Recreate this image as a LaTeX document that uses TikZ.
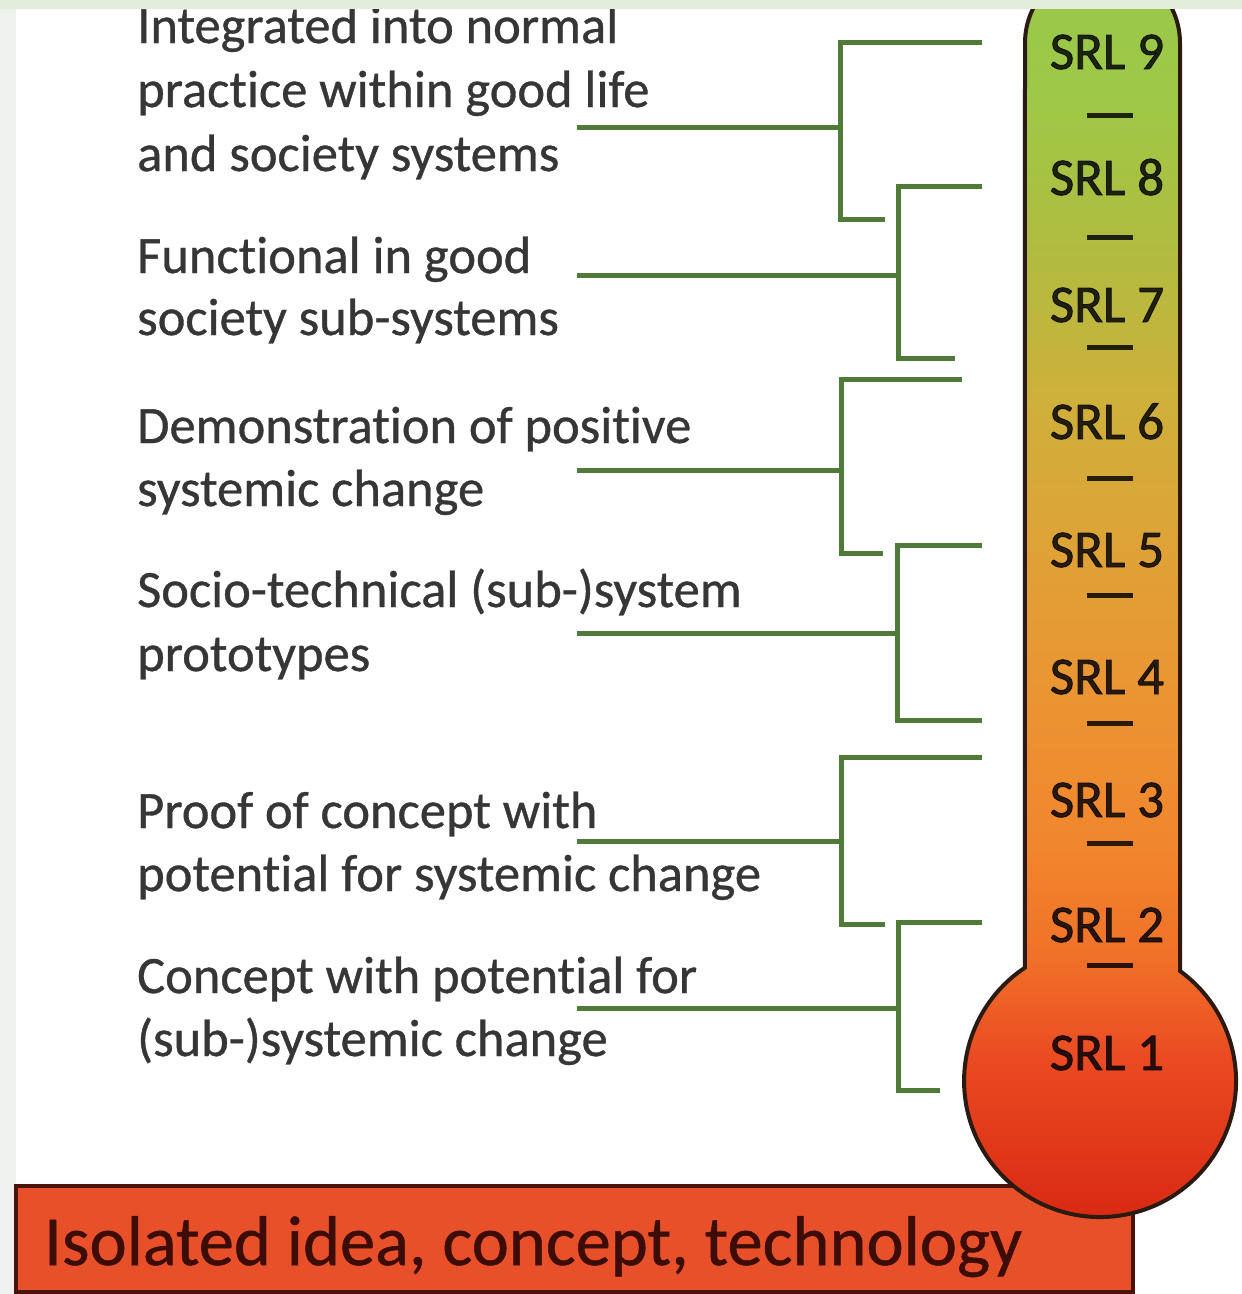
\documentclass[tikz,border=0pt]{standalone}
\usepackage{fontspec}
\setmainfont{Carlito}[Ligatures=NoCommon]
\newfontfamily\labfont{Carlito}[FakeBold=0.7,Ligatures=NoCommon]
\newfontfamily\srlfont{Carlito}[FakeBold=1.6]
\definecolor{brgreen}{HTML}{507A38}
\definecolor{labgray}{HTML}{363636}
\definecolor{boxfill}{HTML}{E8502A}
\definecolor{boxborder}{HTML}{4A1208}
\definecolor{boxtext}{HTML}{3C0C06}
\definecolor{topband}{HTML}{E2EEDA}
\definecolor{leftband}{HTML}{EEF1EE}
\definecolor{thermoline}{HTML}{2A1A10}
\definecolor{tA}{HTML}{98C84C}
\definecolor{tB}{HTML}{9FC846}
\definecolor{tC}{HTML}{B0BC40}
\definecolor{tD}{HTML}{CEB03A}
\definecolor{tE}{HTML}{DFA236}
\definecolor{tF}{HTML}{EB9432}
\definecolor{tG}{HTML}{F1862C}
\definecolor{tH}{HTML}{F07028}
\definecolor{tI}{HTML}{EA4A22}
\definecolor{tJ}{HTML}{D82812}
\begin{document}
\begin{tikzpicture}[x=1pt,y=-1pt,
  br/.style={draw=brgreen, line width=5pt},
  lab/.style={anchor=base west, inner sep=0pt, text=labgray, font=\labfont\fontsize{52.5}{60}\selectfont},
  srl/.style={anchor=base, inner sep=0pt, text=black, text opacity=0.82, font=\srlfont\fontsize{53}{60}\selectfont},
  tick/.style={draw=black, draw opacity=0.82, line width=5pt},
  band/.style={fill=#1, draw=none}
]
\useasboundingbox (0,0) rectangle (1242,1294);
\fill[white] (0,0) rectangle (1242,1294);
\path[band=leftband] (0,0) rectangle (16,1294);

% base box
\node[draw=boxborder, line width=4pt, fill=boxfill, anchor=north west,
      minimum width=1117pt, minimum height=106pt, inner sep=0pt, outer sep=0pt] (base) at (16,1186) {};
\node[anchor=base west, inner sep=0pt, text=boxtext, font=\labfont\fontsize{70.5}{72}\selectfont] (basetxt) at (44,1265) {Isolated idea, concept, technology};

% thermometer fill
\begin{scope}
  \clip (1180,971) arc[start angle=-54, end angle=236.4, radius=136] -- (1025,43) arc[start angle=180, end angle=360, radius=77.5] -- cycle;
  \fill[top color=tA, bottom color=tB] (950,-40) rectangle (1250,100);
  \fill[top color=tB, bottom color=tC] (950,99) rectangle (1250,250);
  \fill[top color=tC, bottom color=tD] (950,249) rectangle (1250,400);
  \fill[top color=tD, bottom color=tE] (950,399) rectangle (1250,550);
  \fill[top color=tE, bottom color=tF] (950,549) rectangle (1250,700);
  \fill[top color=tF, bottom color=tG] (950,699) rectangle (1250,850);
  \fill[top color=tG, bottom color=tH] (950,849) rectangle (1250,960);
  \fill[top color=tH, bottom color=tI] (950,959) rectangle (1250,1060);
  \fill[top color=tI, bottom color=tJ] (950,1059) rectangle (1250,1225);
\end{scope}
\draw[thermoline, line width=4pt] (1180,971) arc[start angle=-54, end angle=236.4, radius=136] -- (1025,43) arc[start angle=180, end angle=360, radius=77.5] -- cycle;

% SRL labels
\node[srl] (s9) at (1107,69) {SRL 9};
\node[srl] (s8) at (1107,195) {SRL 8};
\node[srl] (s7) at (1107,322) {SRL 7};
\node[srl] (s6) at (1107,439) {SRL 6};
\node[srl] (s5) at (1107,567) {SRL 5};
\node[srl] (s4) at (1107,694) {SRL 4};
\node[srl] (s3) at (1107,817) {SRL 3};
\node[srl] (s2) at (1107,942) {SRL 2};
\node[srl] (s1) at (1107,1070) {SRL 1};
\foreach \y in {115,237,347,478,595,723,843,965}
  \draw[tick] (1087,\y) -- (1133,\y);

% left labels
\node[lab] (l1a) at (137,43) {Integrated into normal};
\node[lab] (l1b) at (137,107) {practice within good life};
\node[lab] (l1c) at (137,171) {and society systems};
\node[lab] (l2a) at (137,273) {Functional in good};
\node[lab] (l2b) at (137,335) {society sub-systems};
\node[lab] (l3a) at (137,443) {Demonstration of positive};
\node[lab] (l3b) at (137,506) {systemic change};
\node[lab] (l4a) at (137,607) {Socio-technical (sub-)system};
\node[lab] (l4b) at (137,671) {prototypes};
\node[lab] (l5a) at (137,828) {Proof of concept with};
\node[lab] (l5b) at (137,891) {potential for systemic change};
\node[lab] (l6a) at (137,993) {Concept with potential for};
\node[lab] (l6b) at (137,1056) {(sub-)systemic change};

% brackets
\coordinate (g1t) at (982,42);  \coordinate (g1tc) at (840,42);
\coordinate (g1bc) at (840,219); \coordinate (g1b) at (885,219);
\coordinate (g1s) at (577,127); \coordinate (g1m) at (840,127);
\coordinate (g2t) at (982,186);  \coordinate (g2tc) at (898,186);
\coordinate (g2bc) at (898,358); \coordinate (g2b) at (955,358);
\coordinate (g2s) at (577,275); \coordinate (g2m) at (898,275);
\coordinate (g3t) at (962,379);  \coordinate (g3tc) at (841,379);
\coordinate (g3bc) at (841,553); \coordinate (g3b) at (883,553);
\coordinate (g3s) at (577,470); \coordinate (g3m) at (841,470);
\coordinate (g4t) at (982,545);  \coordinate (g4tc) at (897,545);
\coordinate (g4bc) at (897,720); \coordinate (g4b) at (982,720);
\coordinate (g4s) at (577,633); \coordinate (g4m) at (897,633);
\coordinate (g5t) at (982,757);  \coordinate (g5tc) at (841,757);
\coordinate (g5bc) at (841,924); \coordinate (g5b) at (885,924);
\coordinate (g5s) at (577,841); \coordinate (g5m) at (841,841);
\coordinate (g6t) at (982,922);  \coordinate (g6tc) at (898,922);
\coordinate (g6bc) at (898,1090); \coordinate (g6b) at (940,1090);
\coordinate (g6s) at (577,1008); \coordinate (g6m) at (898,1008);
\foreach \g in {g1,g2,g3,g4,g5,g6}{
  \draw[br] (\g t) -- (\g tc) -- (\g bc) -- (\g b);
  \draw[br] (\g s) -- (\g m);
}

\path[band=topband] (0,0) rectangle (1242,9);
\end{tikzpicture}
\end{document}
